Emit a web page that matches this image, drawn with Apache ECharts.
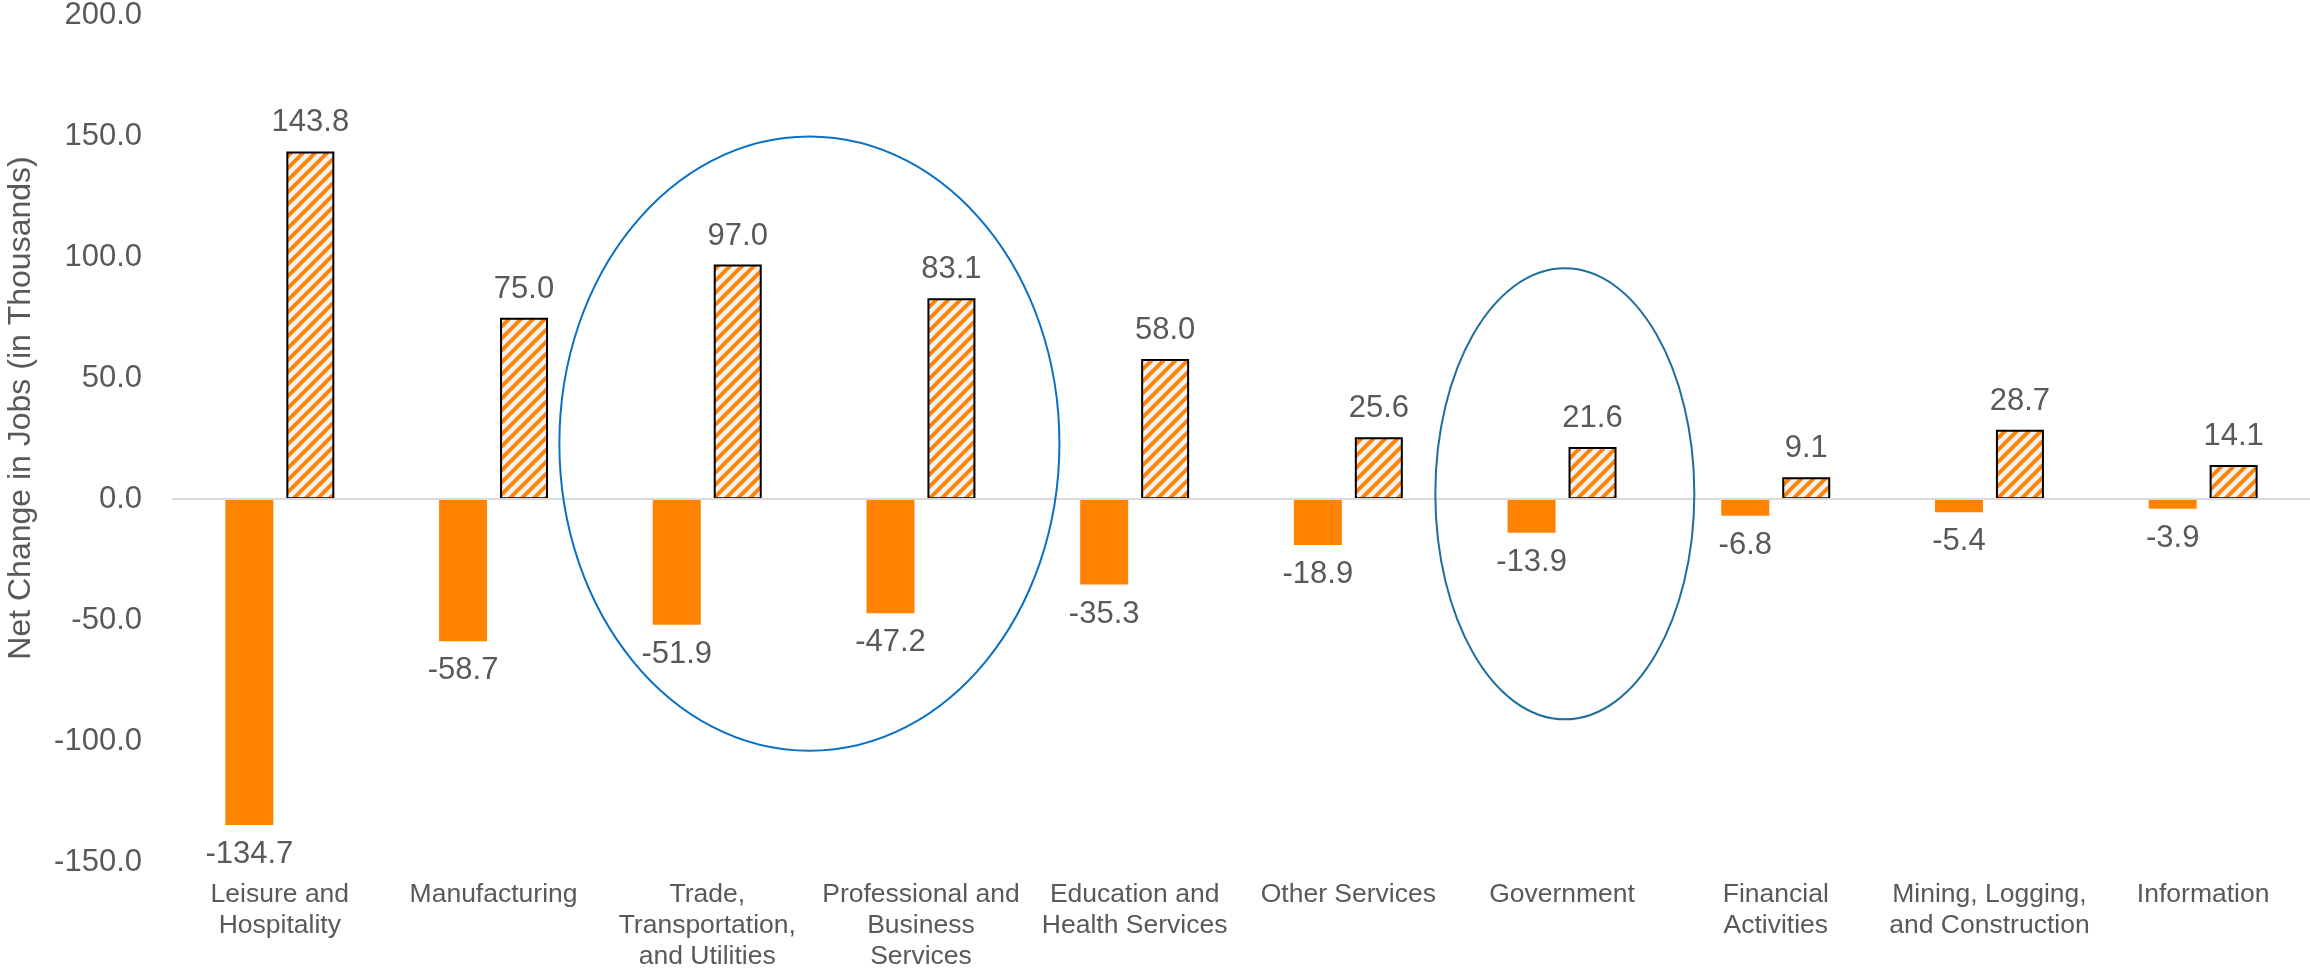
<!DOCTYPE html>
<html>
<head>
<meta charset="utf-8">
<script src="https://cdn.jsdelivr.net/npm/echarts@6/dist/echarts.min.js"></script>
<style>
html,body{margin:0;padding:0;background:#ffffff;}
#chart{width:2310px;height:972px;}
</style>
</head>
<body>
<div id="chart"></div>
<script>
// ---------- data ----------
const categories = [
  "Leisure and\nHospitality",
  "Manufacturing",
  "Trade,\nTransportation,\nand Utilities",
  "Professional and\nBusiness\nServices",
  "Education and\nHealth Services",
  "Other Services",
  "Government",
  "Financial\nActivities",
  "Mining, Logging,\nand Construction",
  "Information"
];
const jobsLost   = [-134.7, -58.7, -51.9, -47.2, -35.3, -18.9, -13.9, -6.8, -5.4, -3.9];
const jobsGained = [143.8, 75.0, 97.0, 83.1, 58.0, 25.6, 21.6, 9.1, 28.7, 14.1];
const yMin = -150;
const yMax = 200;
const yInterval = 50;
const yAxisTitle = "Net Change in Jobs (in Thousands)";

// ---------- styles ----------
const FONT = "Liberation Sans, Arial, sans-serif";
const TEXT = "#595959";
const ORANGE = "#FF8300";

function makeHatch() {
  const T = 12;
  const c = document.createElement("canvas");
  c.width = T; c.height = T;
  const g = c.getContext("2d");
  g.fillStyle = "#F2F2F2";
  g.fillRect(0, 0, T, T);
  g.strokeStyle = ORANGE;
  g.lineWidth = 3.8;
  g.lineCap = "square";
  for (const k of [-T, 0, T]) {
    g.beginPath();
    g.moveTo(k - 2, T + 2);
    g.lineTo(k + T + 2, -2);
    g.stroke();
  }
  return c;
}

const chart = echarts.init(document.getElementById("chart"), null, {renderer: "canvas"});

const option = {
  animation: false,
  backgroundColor: "#ffffff",
  textStyle: {fontFamily: FONT},
  grid: {left: 173, right: -3, top: 15, bottom: 110, containLabel: false},
  xAxis: {
    type: "category",
    data: categories,
    z: 5,
    axisLine: {onZero: true, lineStyle: {color: "#D9D9D9", width: 2}},
    axisTick: {show: false},
    axisLabel: {
      interval: 0,
      color: TEXT,
      fontFamily: FONT,
      fontSize: 26.5,
      lineHeight: 31,
      margin: 17,
      align: "center"
    },
    splitLine: {show: false}
  },
  yAxis: {
    type: "value",
    min: yMin,
    max: yMax,
    interval: yInterval,
    axisLine: {show: false},
    axisTick: {show: false},
    splitLine: {show: false},
    axisLabel: {
      color: TEXT,
      fontFamily: FONT,
      fontSize: 31,
      margin: 31,
      formatter: v => v.toFixed(1)
    }
  },
  series: [
    {
      name: "Jobs Lost",
      type: "bar",
      data: jobsLost,
      barWidth: 48,
      barGap: "27%",
      itemStyle: {color: ORANGE},
      label: {
        show: true,
        position: "bottom",
        distance: 14,
        color: TEXT,
        fontFamily: FONT,
        fontSize: 31,
        formatter: p => p.value.toFixed(1)
      }
    },
    {
      name: "Jobs Gained",
      type: "bar",
      data: jobsGained,
      barWidth: 48,
      itemStyle: {
        color: {image: makeHatch(), repeat: "repeat"},
        borderColor: "#000000",
        borderWidth: 2
      },
      label: {
        show: true,
        position: "top",
        distance: 13,
        color: TEXT,
        fontFamily: FONT,
        fontSize: 31,
        formatter: p => p.value.toFixed(1)
      }
    }
  ]
};
chart.setOption(option);

// ---------- annotations (ellipses around highlighted categories) ----------
// x extents in category-index units, y extents in data units
const highlights = [
  {x0: 1.308, x1: 3.648, y0: 150, y1: -104, color: "#0A70C4"},
  {x0: 5.407, x1: 6.619, y0: 95.5, y1: -91, color: "#1F6F9C"}
];
function px(idx, val) {
  const p0 = chart.convertToPixel({gridIndex: 0}, [0, val]);
  const p1 = chart.convertToPixel({gridIndex: 0}, [1, val]);
  const band = p1[0] - p0[0];
  return [p0[0] + idx * band, p0[1]];
}
const graphics = highlights.map(h => {
  const a = px(h.x0, h.y0);
  const b = px(h.x1, h.y1);
  return {
    type: "ellipse",
    silent: true,
    z: 10,
    shape: {cx: (a[0] + b[0]) / 2, cy: (a[1] + b[1]) / 2, rx: Math.abs(b[0] - a[0]) / 2, ry: Math.abs(b[1] - a[1]) / 2},
    style: {fill: null, stroke: h.color, lineWidth: 2}
  };
});
graphics.push({
  type: "text",
  silent: true,
  x: 21,
  y: 408,
  rotation: Math.PI / 2,
  style: {
    text: yAxisTitle,
    fill: TEXT,
    font: "32px " + FONT,
    align: "center",
    verticalAlign: "middle"
  }
});
chart.setOption({graphic: graphics});
</script>
</body>
</html>
